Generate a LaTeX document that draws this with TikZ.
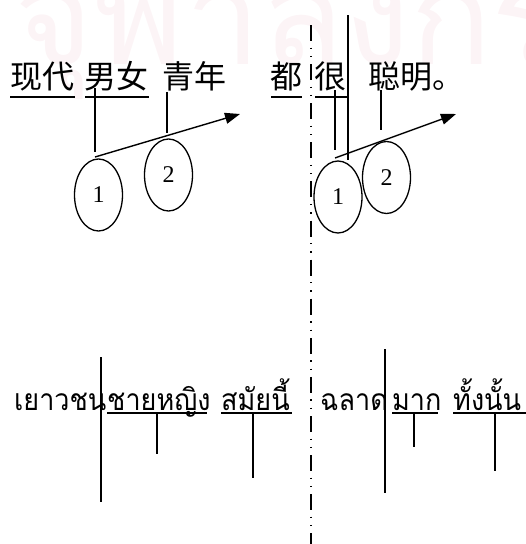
\documentclass[tikz,border=0pt]{standalone}
\usepackage{fontspec}
\setmainfont{Liberation Serif}
\newfontfamily\thaifont[Script=Thai,FakeStretch=0.9]{Loma}
\newfontfamily\wmfont[Script=Thai]{Loma}
\newfontfamily\cjk{Noto Sans CJK SC}
\usetikzlibrary{arrows.meta,shapes.geometric}
\definecolor{wm}{RGB}{252,244,246}
\tikzset{
  zh/.style={font=\cjk\fontsize{32}{32}\selectfont, inner sep=0pt, anchor=base west},
  th/.style={font=\thaifont\fontsize{30}{30}\selectfont, inner sep=0pt, anchor=base west},
  ul/.style={line width=2pt},
  stem/.style={line width=1.4pt},
  circ/.style={draw, line width=1.3pt, ellipse, minimum width=48pt, minimum height=72pt, inner sep=0pt, font=\fontsize{24}{24}\selectfont},
  arr/.style={line width=1.4pt, -{Triangle[length=15pt,width=11pt]}},
  divider/.style={line width=1.3pt, dash pattern=on 16pt off 6.5pt on 1.3pt off 7pt on 1.3pt off 7pt}
}
\begin{document}
\begin{tikzpicture}[x=1pt,y=-1pt]
\useasboundingbox (0,0) rectangle (526,544);
\begin{scope}
\clip (0,0) rectangle (526,544);
\node[font=\wmfont\fontsize{135}{135}\selectfont, text=wm, inner sep=0pt, anchor=base west] (wmark) at (14,64) {จุฬาลงกรณ์มหาวิทยาลัย};
\end{scope}
% Chinese row
\node[zh] (xd) at (10,88) {现代};
\node[zh] (nn) at (84,88) {男女};
\node[zh] (qn) at (162,88) {青年};
\node[zh] (du) at (270,88) {都};
\node[zh] (hen) at (314,88) {很};
\node[zh] (cm) at (368,88) {聪明。};
\coordinate (u1a) at (10,97); \coordinate (u1b) at (75,97);
\coordinate (u2a) at (85,97); \coordinate (u2b) at (149,97);
\coordinate (u3a) at (271,97); \coordinate (u3b) at (302,97);
\coordinate (u4a) at (315,97); \coordinate (u4b) at (348,97);
\draw[ul] (u1a) -- (u1b);
\draw[ul] (u2a) -- (u2b);
\draw[ul] (u3a) -- (u3b);
\draw[ul] (u4a) -- (u4b);
% left stems and arrow
\coordinate (s1t) at (95,88); \coordinate (s1b) at (95,152);
\coordinate (s2t) at (167,92); \coordinate (s2b) at (167,133);
\draw[stem] (s1t) -- (s1b);
\draw[stem] (s2t) -- (s2b);
\coordinate (a1s) at (95,157); \coordinate (a1e) at (240,114);
\draw[arr] (a1s) -- (a1e);
\node[circ] (c1) at (98.5,195) {1};
\node[circ] (c2) at (168.5,175) {2};
% divider
\coordinate (dvt) at (311,25); \coordinate (dvb) at (311,544);
\draw[divider] (dvt) -- (dvb);
% right stems and arrow
\coordinate (r1t) at (335,90); \coordinate (r1b) at (335,150);
\coordinate (r2t) at (348,15); \coordinate (r2b) at (348,160);
\coordinate (r3t) at (381,90); \coordinate (r3b) at (381,130);
\draw[stem] (r1t) -- (r1b);
\draw[stem] (r2t) -- (r2b);
\draw[stem] (r3t) -- (r3b);
\coordinate (a2s) at (335,158); \coordinate (a2e) at (456,114);
\draw[arr] (a2s) -- (a2e);
\node[circ] (c3) at (338,197) {1};
\node[circ] (c4) at (386.5,177.5) {2};
% Thai row
\node[th] (t1) at (14,410) {เยาวชน};
\node[th] (t2) at (107,410) {ชายหญิง};
\node[th] (t3) at (221,410) {สมัยนี้};
\node[th] (t4) at (320,410) {ฉลาด};
\node[th] (t5) at (392,410) {มาก};
\node[th] (t6) at (453,410) {ทั้งนั้น};
\coordinate (v1t) at (101,357); \coordinate (v1b) at (101,502);
\coordinate (v2t) at (385,349); \coordinate (v2b) at (385,493);
\draw[stem] (v1t) -- (v1b);
\draw[stem] (v2t) -- (v2b);
\coordinate (tu1a) at (107,413); \coordinate (tu1b) at (207,413);
\coordinate (tu2a) at (221,413); \coordinate (tu2b) at (292,413);
\coordinate (tu3a) at (392,413); \coordinate (tu3b) at (438,413);
\coordinate (tu4a) at (453,413); \coordinate (tu4b) at (526,413);
\draw[ul] (tu1a) -- (tu1b);
\draw[ul] (tu2a) -- (tu2b);
\draw[ul] (tu3a) -- (tu3b);
\draw[ul] (tu4a) -- (tu4b);
\coordinate (ts1t) at (157,413); \coordinate (ts1b) at (157,454);
\coordinate (ts2t) at (253,413); \coordinate (ts2b) at (253,478);
\coordinate (ts3t) at (414,413); \coordinate (ts3b) at (414,447);
\coordinate (ts4t) at (495,413); \coordinate (ts4b) at (495,471);
\draw[stem] (ts1t) -- (ts1b);
\draw[stem] (ts2t) -- (ts2b);
\draw[stem] (ts3t) -- (ts3b);
\draw[stem] (ts4t) -- (ts4b);
\end{tikzpicture}
\end{document}
